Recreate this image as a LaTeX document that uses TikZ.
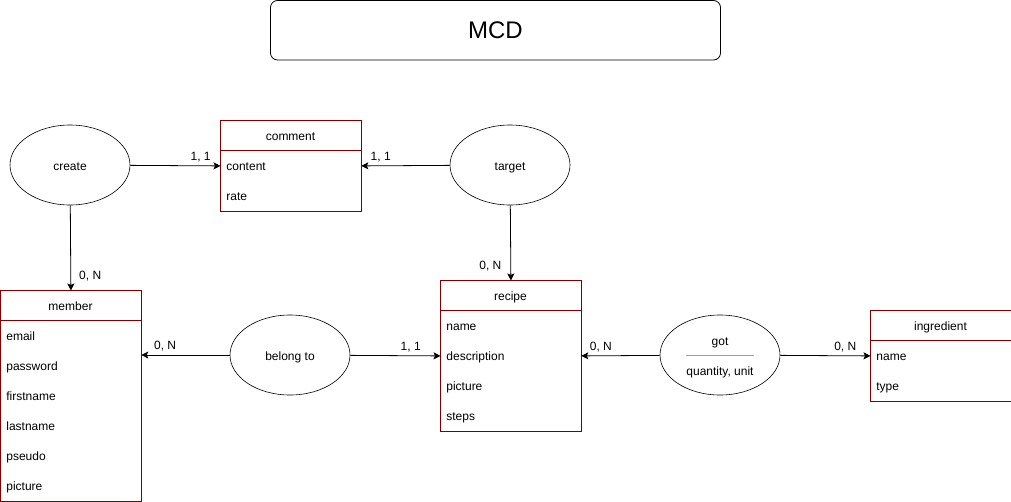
\documentclass[tikz,border=0pt]{standalone}
\usepackage{fontspec}
\setmainfont{Liberation Sans}
\usetikzlibrary{shapes.geometric,arrows.meta}
\definecolor{entred}{HTML}{800000}
\definecolor{sepgray}{HTML}{A0A0A0}
\begin{document}
\begin{tikzpicture}[x=1pt,y=-1pt,line width=0.8pt,
        font=\fontsize{12}{14}\selectfont,
        every node/.append style={text height=11.5pt, text depth=0pt},
        entity/.style={anchor=north west, minimum width=140pt, inner sep=0pt},
        frame/.style={draw=entred, line width=1pt},
        relation/.style={draw, ellipse, line width=0.6pt, minimum width=120pt, minimum height=80pt, inner sep=0pt},
        attr/.style={anchor=west, inner sep=0pt},
        link/.style={-{Stealth[length=7pt,width=7pt,inset=1.5pt]}},
        card/.style={text height=8.6pt, inner sep=3pt, inner ysep=5pt}]
    \useasboundingbox (0,0) rectangle (1011,501);
    % title
    \node[draw, rounded corners=7pt, minimum width=450pt, minimum height=59.5pt, inner sep=0pt,
        text height=17pt, font=\fontsize{24}{28}\selectfont] (title) at (495.5,30.25) {MCD};
    % comment
    \node[entity, minimum height=90pt] (comment) at (220.5,120.5) {};
    \draw[frame] (comment.north west) rectangle (comment.south east);
    \draw[frame] (comment.north west) ++(0,30) -- ++(140,0);
    \node (comment-h) at (290.5,135) {comment};
    \foreach \txt [count=\i] in {content,rate}
        \node[attr] (comment-\i) at (226,135+30*\i) {\txt};
    % member
    \node[entity, minimum height=210pt] (member) at (0.5,290.5) {};
    \draw[frame] (member.north west) rectangle (member.south east);
    \draw[frame] (member.north west) ++(0,30) -- ++(140,0);
    \node (member-h) at (70.5,305) {member};
    \foreach \txt [count=\i] in {email,password,firstname,lastname,pseudo,picture}
        \node[attr] (member-\i) at (6,305+30*\i) {\txt};
    % recipe
    \node[entity, minimum height=150pt] (recipe) at (440.5,280.5) {};
    \draw[frame] (recipe.north west) rectangle (recipe.south east);
    \draw[frame] (recipe.north west) ++(0,30) -- ++(140,0);
    \node (recipe-h) at (510.5,295) {recipe};
    \foreach \txt [count=\i] in {name,description,picture,steps}
        \node[attr] (recipe-\i) at (446,295+30*\i) {\txt};
    % ingredient
    \node[entity, minimum height=90pt] (ingredient) at (870.5,310.5) {};
    \draw[frame] (ingredient.north west) rectangle (ingredient.south east);
    \draw[frame] (ingredient.north west) ++(0,30) -- ++(140,0);
    \node (ingredient-h) at (940.5,325) {ingredient};
    \foreach \txt [count=\i] in {name,type}
        \node[attr] (ingredient-\i) at (876,325+30*\i) {\txt};
    % relations
    \node[relation] (create) at (70,165) {create};
    \node[relation] (target) at (510,165) {target};
    \node[relation] (belong) at (290,355) {belong to};
    \node[relation] (got) at (720,355) {};
    \node (got-name) at (720,340) {got};
    \node (got-attr) at (720,370) {quantity, unit};
    \draw[sepgray] (686,355) -- (754,355);
    % links
    \draw[link] (create) -- (comment.west) node[card, pos=0.78, above] {1, 1};
    \draw[link] (target) -- (comment.east) node[card, pos=0.78, above] {1, 1};
    \draw[link] (create) -- (member.north) node[card, pos=0.82, right, xshift=5pt] {0, N};
    \draw[link] (target) -- (recipe.north) node[card, pos=0.8, left, xshift=-6pt] {0, N};
    \draw[link] (belong.west) -- (belong.west -| member.east) node[card, pos=0.73, above] {0, N};
    \draw[link] (belong) -- (recipe.west) node[card, pos=0.67, above] {1, 1};
    \draw[link] (got) -- (recipe.east) node[card, pos=0.75, above] {0, N};
    \draw[link] (got) -- (ingredient.west) node[card, pos=0.72, above] {0, N};
\end{tikzpicture}
\end{document}
